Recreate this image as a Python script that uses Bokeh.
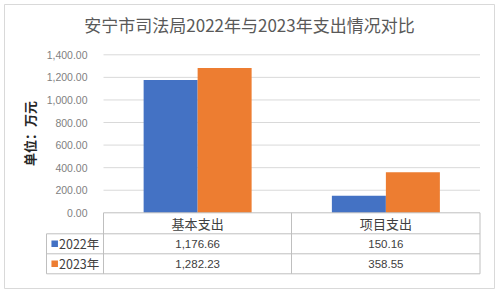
import math
from bokeh.plotting import figure
from bokeh.models import Range1d, FixedTicker, NumeralTickFormatter, ColumnDataSource
from bokeh.core.properties import value
from bokeh.embed import file_html
from bokeh.resources import INLINE

# ---------------- data ----------------
title_text = "安宁市司法局2022年与2023年支出情况对比"
y_label = "单位：万元"
categories = ["基本支出", "项目支出"]
series_names = ["2022年", "2023年"]
values_2022 = [1176.66, 150.16]
values_2023 = [1282.23, 358.55]
value_labels_2022 = ["1,176.66", "150.16"]
value_labels_2023 = ["1,282.23", "358.55"]
y_ticks = [0, 200, 400, 600, 800, 1000, 1200, 1400]
colors = ["#4472C4", "#ED7D31"]

# ---------------- layout (pixels) ----------------
W, H = 500, 294
PX_X0, PX_X2 = 103.0, 479.5      # plot-area left/right
PX_Y0, PX_YTOP = 212.3, 54.3     # y=0 and y=1400
ux = (PX_X2 - PX_X0) / 2.0       # px per category unit
uy = (PX_Y0 - PX_YTOP) / 1400.0  # px per value unit

def X(px):
    return (px - PX_X0) / ux

def Y(py):
    return (PX_Y0 - py) / uy

p = figure(width=W, height=H, output_backend="svg", toolbar_location=None,
           x_range=Range1d(X(0), X(W)), y_range=Range1d(Y(H), Y(0)),
           min_border=0, min_border_left=0, min_border_right=0,
           min_border_top=0, min_border_bottom=0)
p.outline_line_color = None
p.background_fill_color = "white"
p.border_fill_color = "white"
p.xaxis.visible = False
p.xgrid.visible = False
p.ygrid.visible = False

# outer chart border
p.quad(left=X(4), right=X(494), top=Y(4), bottom=Y(288),
       fill_color="white", line_color="#d9d9d9", line_width=1)

# y axis placed at the plot-area left edge
ax = p.yaxis[0]
ax.fixed_location = 0
ax.bounds = (0, 1400)
ax.ticker = FixedTicker(ticks=y_ticks)
ax.formatter = NumeralTickFormatter(format="0,0.00")
ax.axis_line_color = None
ax.major_tick_line_color = None
ax.minor_tick_line_color = None
ax.major_label_standoff = 10
ax.major_label_text_font = "Liberation Sans"
ax.major_label_text_font_size = "10.5px"
ax.major_label_text_color = "#7f7f7f"

# gridlines
grid_vals = [t for t in y_ticks if t > 0]
p.segment(x0=[0] * len(grid_vals), x1=[2] * len(grid_vals), y0=grid_vals, y1=grid_vals,
          line_color="#d9d9d9", line_width=1)

# bars
centers = [i + 0.5 for i in range(len(categories))]
bw = 54.0 / ux
p.vbar(x=[c - bw / 2 for c in centers], top=values_2022, bottom=0, width=bw,
       fill_color=colors[0], line_color=None)
p.vbar(x=[c + bw / 2 for c in centers], top=values_2023, bottom=0, width=bw,
       fill_color=colors[1], line_color=None)

# title
p.text(x=[X(249)], y=[Y(23.5)], text=[title_text], text_font=value("Noto Sans CJK SC"),
       text_font_size="17px", text_color="#595959", text_align="center",
       text_baseline="middle")

# y-axis label
p.text(x=[X(29)], y=[Y(133)], text=[y_label], angle=math.pi / 2,
       text_font=value("Noto Sans CJK SC"), text_font_size="13px",
       text_font_style="bold", text_color="#262626", text_align="center",
       text_baseline="middle")

# data table
tl = "#bfbfbf"
row_y = [212.3, 233.3, 253.3, 273.3]
col_x = [46.0, 103.0, 291.0, 479.5]
# horizontal lines
hx0 = [X(col_x[1]), X(col_x[0]), X(col_x[0]), X(col_x[0])]
hx1 = [X(col_x[3])] * 4
hy = [Y(v) for v in row_y]
p.segment(x0=hx0, x1=hx1, y0=hy, y1=hy, line_color=tl, line_width=1)
# vertical lines
vx = [X(col_x[0]), X(col_x[1]), X(col_x[2]), X(col_x[3])]
vy0 = [Y(row_y[1]), Y(row_y[0]), Y(row_y[0]), Y(row_y[0])]
vy1 = [Y(row_y[3])] * 4
p.segment(x0=vx, x1=vx, y0=vy0, y1=vy1, line_color=tl, line_width=1)

cy_head = Y((row_y[0] + row_y[1]) / 2)
cy_r1 = Y((row_y[1] + row_y[2]) / 2)
cy_r2 = Y((row_y[2] + row_y[3]) / 2)

p.text(x=centers, y=[cy_head] * 2, text=categories, text_font=value("Noto Sans CJK SC"),
       text_font_size="13px", text_color="#404040", text_align="center",
       text_baseline="middle")
p.text(x=centers, y=[cy_r1] * 2, text=value_labels_2022, text_font=value("Liberation Sans"),
       text_font_size="11.5px", text_color="#404040", text_align="center",
       text_baseline="middle")
p.text(x=centers, y=[cy_r2] * 2, text=value_labels_2023, text_font=value("Liberation Sans"),
       text_font_size="11.5px", text_color="#404040", text_align="center",
       text_baseline="middle")

# legend keys & labels in the table
p.rect(x=[X(54.2)] * 2, y=[cy_r1, cy_r2], width=6.5, height=6.5,
       width_units="screen", height_units="screen", fill_color=colors, line_color=None)
p.text(x=[X(58.5)] * 2, y=[cy_r1, cy_r2], text=series_names,
       text_font=value("Noto Sans CJK SC"), text_font_size="12.5px", text_color="#404040",
       text_align="left", text_baseline="middle")

open("out.html", "w").write(file_html(p, INLINE))
